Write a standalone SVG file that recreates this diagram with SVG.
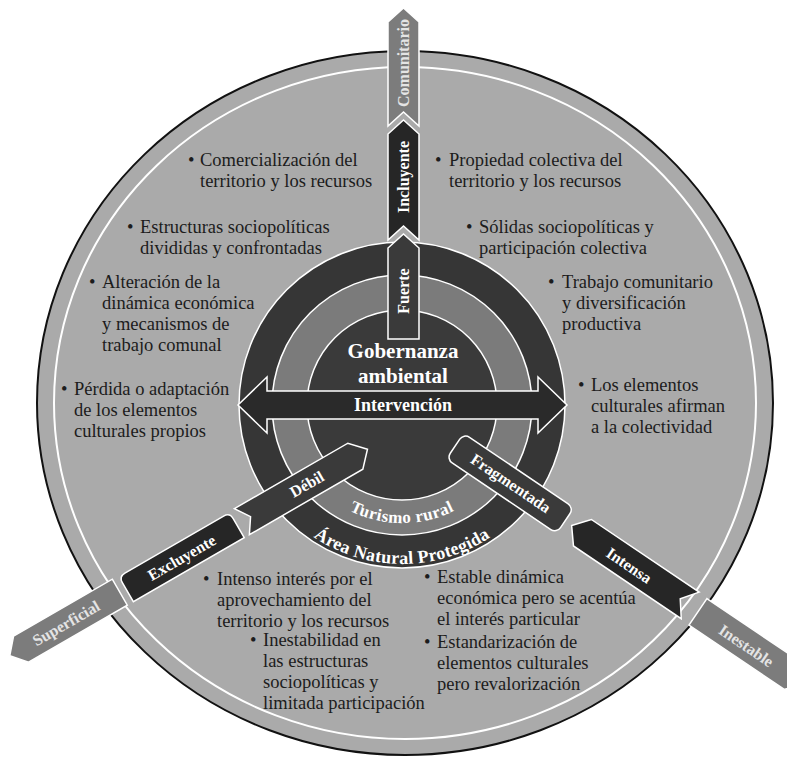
<svg xmlns="http://www.w3.org/2000/svg" width="787" height="758" viewBox="0 0 787 758">
<style>
.bt{font-family:"Liberation Serif","Times New Roman",serif;font-size:18.5px;fill:#1c1c1c}
.lb{font-family:"Liberation Serif","Times New Roman",serif;font-size:16px;font-weight:bold;fill:#ffffff}
.lg{font-family:"Liberation Serif","Times New Roman",serif;font-size:16px;font-weight:bold;fill:#e4e4e4}
.ct{font-family:"Liberation Serif","Times New Roman",serif;font-weight:bold;fill:#ffffff}
.seg1{fill:#3a3a3a;stroke:#ffffff;stroke-width:1.5}
.seg2{fill:#262626;stroke:#ffffff;stroke-width:1.5}
.seg3{fill:#7c7c7c;stroke:#ffffff;stroke-width:1.5}
</style>
<defs>
<path id="arcT" d="M284,405 A118,118 0 0 0 520,405"/>
<path id="arcA" d="M243,405 A159,159 0 0 0 561,405"/>
</defs>
<g id="background">
<ellipse cx="405" cy="403" rx="368" ry="352" fill="#aaaaaa" stroke="#111111" stroke-width="2"/>
<ellipse cx="405" cy="403" rx="351" ry="336" fill="none" stroke="#ffffff" stroke-width="2"/>
</g>
<g id="rings">
<circle cx="402" cy="405" r="163" fill="#363636" stroke="#ffffff" stroke-width="1.5"/>
<circle cx="402" cy="405" r="130" fill="#7b7b7b" stroke="#ffffff" stroke-width="1.5"/>
<circle cx="402" cy="405" r="95" fill="#3a3a3a" stroke="#ffffff" stroke-width="1.5"/>
<text class="ct" font-size="17" fill="#ececec" letter-spacing="0.5"><textPath href="#arcT" startOffset="50%" text-anchor="middle">Turismo rural</textPath></text>
<text class="ct" font-size="18" letter-spacing="0.3"><textPath href="#arcA" startOffset="50%" text-anchor="middle">Área Natural Protegida</textPath></text>
</g>
<g id="intervencion">
<polygon points="238,405 267,377 267,391 538,391 538,377 567,405 538,433 538,419 267,419 267,433" fill="#2a2a2a" stroke="#ffffff" stroke-width="1.5"/>
<text class="ct" x="403" y="411" font-size="18" text-anchor="middle">Intervención</text>
</g>
<g id="gobernanza">
<text class="ct" x="403" y="358" font-size="21" text-anchor="middle">Gobernanza</text>
<text class="ct" x="403" y="383" font-size="21" text-anchor="middle">ambiental</text>
</g>
<g id="connectors">
<g id="arrow-up">
<g id="fuerte">
<polygon class="seg1" points="388,339 388,248 403.5,234 419,248 419,339"/>
<text class="lb" transform="translate(403.5,291) rotate(-90)" text-anchor="middle" dominant-baseline="central">Fuerte</text>
</g>
<g id="incluyente">
<polygon class="seg2" points="388,240 388,134 403.5,120 419,134 419,240 403.5,226"/>
<text class="lb" transform="translate(403.5,177) rotate(-90)" text-anchor="middle" dominant-baseline="central">Incluyente</text>
</g>
<g id="comunitario">
<polygon class="seg3" points="388,126 388,22 403.5,8 419,22 419,126 403.5,112"/>
<text class="lg" transform="translate(403.5,63) rotate(-90)" text-anchor="middle" dominant-baseline="central">Comunitario</text>
</g>
</g>
<g id="arrow-left" transform="translate(402,405) rotate(-30)">
<g id="debil">
<polygon class="seg1" points="-52,21 -66,6 -197,6 -187,21 -197,36 -66,36"/>
<text class="lb" x="-122" y="21" text-anchor="middle" dominant-baseline="central">Débil</text>
</g>
<g id="excluyente">
<path class="seg2" d="M-203,36 L-203,14 Q-203,7 -210,7 L-324,7 Q-331,7 -331,14 L-331,36 Z"/>
<text class="lb" x="-267" y="22" text-anchor="middle" dominant-baseline="central">Excluyente</text>
</g>
<g id="superficial">
<polygon class="seg3" points="-338,6 -338,36 -452,36 -465,21 -452,6"/>
<text class="lg" x="-400" y="21" text-anchor="middle" dominant-baseline="central">Superficial</text>
</g>
</g>
<g id="arrow-right" transform="translate(402,405) rotate(34)">
<g id="fragmentada">
<rect class="seg1" x="67" y="-11" width="133" height="31" rx="7"/>
<text class="lb" x="134" y="4" text-anchor="middle" dominant-baseline="central">Fragmentada</text>
</g>
<g id="intensa">
<polygon class="seg2" points="208,5 221,-11 351,-11 339,5 351,21 221,21"/>
<text class="lb" x="278" y="6" text-anchor="middle" dominant-baseline="central">Intensa</text>
</g>
<g id="inestable">
<polygon class="seg3" points="361,-10 361,22 476,22 489,6 476,-10"/>
<text class="lg" x="420" y="7" text-anchor="middle" dominant-baseline="central">Inestable</text>
</g>
</g>
</g>
<g id="text-top-left">
<text class="bt" x="188" y="166">•</text>
<text class="bt" x="200" y="166">Comercialización del</text>
<text class="bt" x="200" y="187">territorio y los recursos</text>
<text class="bt" x="127" y="233">•</text>
<text class="bt" x="140" y="233">Estructuras sociopolíticas</text>
<text class="bt" x="140" y="254">divididas y confrontadas</text>
<text class="bt" x="89" y="288">•</text>
<text class="bt" x="102" y="288">Alteración de la</text>
<text class="bt" x="102" y="309">dinámica económica</text>
<text class="bt" x="102" y="330">y mecanismos de</text>
<text class="bt" x="102" y="351">trabajo comunal</text>
<text class="bt" x="61" y="395">•</text>
<text class="bt" x="74" y="395">Pérdida o adaptación</text>
<text class="bt" x="74" y="416">de los elementos</text>
<text class="bt" x="74" y="437">culturales propios</text>
</g>
<g id="text-top-right">
<text class="bt" x="435" y="166">•</text>
<text class="bt" x="449" y="166">Propiedad colectiva del</text>
<text class="bt" x="449" y="187">territorio y los recursos</text>
<text class="bt" x="466" y="233">•</text>
<text class="bt" x="479" y="233">Sólidas sociopolíticas y</text>
<text class="bt" x="479" y="254">participación colectiva</text>
<text class="bt" x="548" y="288">•</text>
<text class="bt" x="562" y="288">Trabajo comunitario</text>
<text class="bt" x="562" y="309">y diversificación</text>
<text class="bt" x="562" y="330">productiva</text>
<text class="bt" x="578" y="391">•</text>
<text class="bt" x="591" y="391">Los elementos</text>
<text class="bt" x="591" y="412">culturales afirman</text>
<text class="bt" x="591" y="433">a la colectividad</text>
</g>
<g id="text-bottom-left">
<text class="bt" x="203" y="585">•</text>
<text class="bt" x="217" y="585">Intenso interés por el</text>
<text class="bt" x="217" y="606">aprovechamiento del</text>
<text class="bt" x="217" y="627">territorio y los recursos</text>
<text class="bt" x="250" y="646">•</text>
<text class="bt" x="263" y="646">Inestabilidad en</text>
<text class="bt" x="263" y="667">las estructuras</text>
<text class="bt" x="263" y="688">sociopolíticas y</text>
<text class="bt" x="263" y="709">limitada participación</text>
</g>
<g id="text-bottom-right">
<text class="bt" x="424" y="583">•</text>
<text class="bt" x="437" y="583">Estable dinámica</text>
<text class="bt" x="437" y="604">económica pero se acentúa</text>
<text class="bt" x="437" y="625">el interés particular</text>
<text class="bt" x="424" y="648">•</text>
<text class="bt" x="437" y="648">Estandarización de</text>
<text class="bt" x="437" y="669">elementos culturales</text>
<text class="bt" x="437" y="690">pero revalorización</text>
</g>
</svg>
